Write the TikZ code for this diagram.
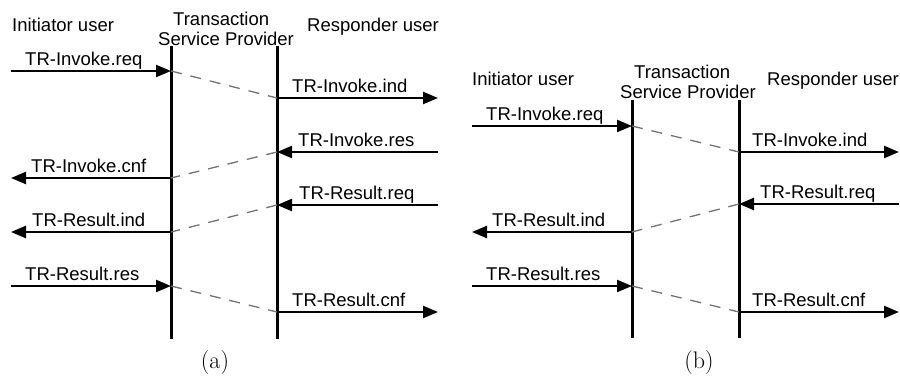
\documentclass[tikz,border=0pt]{standalone}
\usepackage{fontspec}
\newfontfamily\lsans{Liberation Sans}
\usetikzlibrary{arrows.meta}
\begin{document}
\begin{tikzpicture}[x=1pt,y=-1pt,
  lbl/.style={font=\lsans\fontsize{18.5}{22}\selectfont, anchor=base west, inner sep=0pt},
  subcap/.style={font=\fontsize{24}{28}\selectfont, anchor=center, inner sep=0pt},
  msg/.style={line width=2.4pt, -{Triangle[length=15pt,width=12pt]}},
  life/.style={line width=3pt},
  relay/.style={draw=black!55, line width=1.3pt, dash pattern=on 11pt off 9pt}]
\useasboundingbox (0,0) rectangle (900,379);

% ---------------- panel (a) ----------------
\node[lbl] (aIni) at (12,32) {Initiator user};
\node[lbl] (aTr1) at (173,26) {Transaction};
\node[lbl] (aTr2) at (158,46) {Service Provider};
\node[lbl] (aRes) at (307,32) {Responder user};

\coordinate (aL1t) at (171,46);  \coordinate (aL1b) at (171,339);
\coordinate (aL2t) at (277,46);  \coordinate (aL2b) at (277,339);
\draw[life] (aL1t) -- (aL1b);
\draw[life] (aL2t) -- (aL2b);

\coordinate (a1s) at (11,71);   \coordinate (a1e) at (171,71);
\coordinate (a2s) at (277,98);  \coordinate (a2e) at (438,98);
\coordinate (a3s) at (438,152); \coordinate (a3e) at (277,152);
\coordinate (a4s) at (171,178); \coordinate (a4e) at (11,178);
\coordinate (a5s) at (438,205); \coordinate (a5e) at (277,205);
\coordinate (a6s) at (171,232); \coordinate (a6e) at (11,232);
\coordinate (a7s) at (11,286);  \coordinate (a7e) at (171,286);
\coordinate (a8s) at (277,312); \coordinate (a8e) at (438,312);

\draw[msg] (a1s) -- (a1e);
\draw[msg] (a2s) -- (a2e);
\draw[msg] (a3s) -- (a3e);
\draw[msg] (a4s) -- (a4e);
\draw[msg] (a5s) -- (a5e);
\draw[msg] (a6s) -- (a6e);
\draw[msg] (a7s) -- (a7e);
\draw[msg] (a8s) -- (a8e);

\draw[relay] (a1e) -- (a2s);
\draw[relay] (a3e) -- (a4s);
\draw[relay] (a5e) -- (a6s);
\draw[relay] (a7e) -- (a8s);

\node[lbl] (la1) at (25,66)  {TR-Invoke.req};
\node[lbl] (la2) at (292,93) {TR-Invoke.ind};
\node[lbl] (la3) at (298,147) {TR-Invoke.res};
\node[lbl] (la4) at (31,173) {TR-Invoke.cnf};
\node[lbl] (la5) at (299,200) {TR-Result.req};
\node[lbl] (la6) at (32,227) {TR-Result.ind};
\node[lbl] (la7) at (25,281) {TR-Result.res};
\node[lbl] (la8) at (292,307) {TR-Result.cnf};

\node[subcap] (capa) at (215,363) {(a)};

% ---------------- panel (b) ----------------
\node[lbl] (bIni) at (472,86) {Initiator user};
\node[lbl] (bTr1) at (634,79) {Transaction};
\node[lbl] (bTr2) at (620,99) {Service Provider};
\node[lbl] (bRes) at (767,86) {Responder user};

\coordinate (bL1t) at (632,100); \coordinate (bL1b) at (632,338);
\coordinate (bL2t) at (739,100); \coordinate (bL2b) at (739,338);
\draw[life] (bL1t) -- (bL1b);
\draw[life] (bL2t) -- (bL2b);

\coordinate (b1s) at (472,126); \coordinate (b1e) at (632,126);
\coordinate (b2s) at (739,152); \coordinate (b2e) at (899,152);
\coordinate (b3s) at (899,204); \coordinate (b3e) at (739,204);
\coordinate (b4s) at (632,232); \coordinate (b4e) at (472,232);
\coordinate (b5s) at (472,286); \coordinate (b5e) at (632,286);
\coordinate (b6s) at (739,312); \coordinate (b6e) at (899,312);

\draw[msg] (b1s) -- (b1e);
\draw[msg] (b2s) -- (b2e);
\draw[msg] (b3s) -- (b3e);
\draw[msg] (b4s) -- (b4e);
\draw[msg] (b5s) -- (b5e);
\draw[msg] (b6s) -- (b6e);

\draw[relay] (b1e) -- (b2s);
\draw[relay] (b3e) -- (b4s);
\draw[relay] (b5e) -- (b6s);

\node[lbl] (lb1) at (486,121) {TR-Invoke.req};
\node[lbl] (lb2) at (752,147) {TR-Invoke.ind};
\node[lbl] (lb3) at (760,199) {TR-Result.req};
\node[lbl] (lb4) at (492,227) {TR-Result.ind};
\node[lbl] (lb5) at (486,281) {TR-Result.res};
\node[lbl] (lb6) at (752,307) {TR-Result.cnf};

\node[subcap] (capb) at (699,363) {(b)};
\end{tikzpicture}
\end{document}
